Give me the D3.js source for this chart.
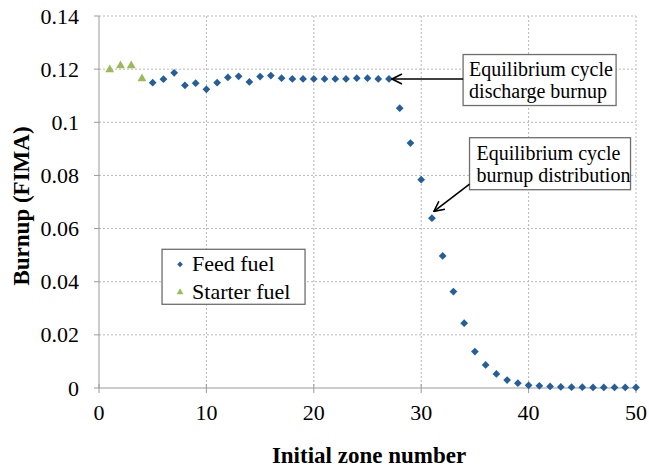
<!DOCTYPE html>
<head>
  <meta charset="utf-8">
  <script src="https://d3js.org/d3.v7.min.js"></script>
</head>
<body style="margin:0">
<script>
  // zones 1-4: starter fuel, 5-50: feed fuel
  var starterZones = [1, 2, 3, 4];
  var starterBurnup = [0.1198, 0.1213, 0.1213, 0.1164];

  var feedZones = d3.range(5, 51);
  var feedBurnup = [
    0.1149, 0.1162, 0.1186, 0.1139, 0.1147, 0.1124, 0.1149, 0.1169, 0.1173, 0.1152,
    0.1172, 0.1176, 0.1166, 0.1163, 0.1163, 0.1163, 0.1163, 0.1163, 0.1163, 0.1166,
    0.1166, 0.1163, 0.1163, 0.1053, 0.0922, 0.0784, 0.0639, 0.0497, 0.0363, 0.0244,
    0.0137, 0.0087, 0.0053, 0.0030, 0.0018, 0.0010, 0.0008, 0.0006, 0.0004, 0.0003,
    0.0003, 0.0002, 0.0002, 0.0002, 0.0002, 0.0002
  ];

  var xTicks = [0, 10, 20, 30, 40, 50];
  var yTicks = [0, 0.02, 0.04, 0.06, 0.08, 0.1, 0.12, 0.14];
  var yTickLabels = ["0", "0.02", "0.04", "0.06", "0.08", "0.1", "0.12", "0.14"];

  var legendLabels = ["Feed fuel", "Starter fuel"];
  var noteDischarge = ["Equilibrium cycle", "discharge burnup"];
  var noteDistribution = ["Equilibrium cycle", "burnup distribution"];

  var W = 649, H = 472;
  var margin = {top: 16, right: 13, bottom: 84, left: 99};

  var svg = d3.select("body").append("svg")
      .attr("width", W)
      .attr("height", H);

  svg.append("defs").append("marker")
      .attr("id", "arrowhead")
      .attr("viewBox", "0 0 12 12")
      .attr("refX", 11).attr("refY", 6)
      .attr("markerWidth", 12).attr("markerHeight", 12)
      .attr("markerUnits", "userSpaceOnUse")
      .attr("orient", "auto")
    .append("path")
      .attr("d", "M1,1 L11,6 L1,11")
      .attr("fill", "none")
      .attr("stroke", "#000")
      .attr("stroke-width", 1.6);

  // every label set the same way as the plain font test that rendered serif
  function label(sel, size, bold) {
    sel.style("font-family", "'Liberation Serif'")
        .style("font-size", size + "px");
    if (bold) sel.style("font-weight", "bold");
    return sel;
  }

  function axisLine(sel) {
    return sel.attr("stroke", "#9a9a9a");
  }

  var x = d3.scaleLinear().domain([0, 50]).range([margin.left, W - margin.right]);
  var y = d3.scaleLinear().domain([0, 0.14]).range([H - margin.bottom, margin.top]);
  var x0 = x(0), x1 = x(50), y0 = y(0), y1 = y(0.14);

  // grid
  svg.selectAll(".hg").data(yTicks.slice(1)).enter().append("line")
      .attr("class", "hg")
      .attr("stroke", "#b8b8b8").attr("stroke-dasharray", "2,2")
      .attr("x1", x0).attr("x2", x1)
      .attr("y1", function(d) { return y(d); })
      .attr("y2", function(d) { return y(d); });
  svg.selectAll(".vg").data(xTicks.slice(1)).enter().append("line")
      .attr("class", "vg")
      .attr("stroke", "#b8b8b8").attr("stroke-dasharray", "2,2")
      .attr("y1", y1).attr("y2", y0)
      .attr("x1", function(d) { return x(d); })
      .attr("x2", function(d) { return x(d); });

  // axes lines + ticks
  axisLine(svg.append("line"))
      .attr("x1", x0).attr("x2", x1).attr("y1", y0).attr("y2", y0);
  axisLine(svg.append("line"))
      .attr("x1", x0).attr("x2", x0).attr("y1", y1).attr("y2", y0);

  axisLine(svg.selectAll(".ytick").data(yTicks).enter().append("line"))
      .attr("class", "ytick")
      .attr("x1", x0 - 5).attr("x2", x0)
      .attr("y1", function(d) { return y(d); })
      .attr("y2", function(d) { return y(d); });
  axisLine(svg.selectAll(".xtick").data(xTicks).enter().append("line"))
      .attr("class", "xtick")
      .attr("x1", function(d) { return x(d); })
      .attr("x2", function(d) { return x(d); })
      .attr("y1", y0 - 4).attr("y2", y0 + 5);

  label(svg.selectAll(".ylab").data(yTicks).enter().append("text"), 22)
      .attr("class", "ylab")
      .attr("x", x0 - 20)
      .attr("y", function(d) { return y(d) + 7.5; })
      .attr("text-anchor", "end")
      .text(function(d, i) { return yTickLabels[i]; });
  label(svg.selectAll(".xlab").data(xTicks).enter().append("text"), 22)
      .attr("class", "xlab")
      .attr("x", function(d) { return x(d); })
      .attr("y", y0 + 32)
      .attr("text-anchor", "middle")
      .text(function(d) { return d; });

  label(svg.append("text"), 23, true)
      .attr("transform", "translate(29,206) rotate(-90)")
      .attr("text-anchor", "middle")
      .text("Burnup (FIMA)");
  label(svg.append("text"), 23, true)
      .attr("x", 369)
      .attr("y", H - 9)
      .attr("text-anchor", "middle")
      .text("Initial zone number");

  // data points
  var diamond = d3.symbol().type(d3.symbolSquare).size(30);
  var triangle = d3.symbol().type(d3.symbolTriangle).size(34);

  svg.selectAll(".feed").data(feedZones).enter().append("path")
      .attr("class", "feed")
      .attr("d", diamond)
      .attr("fill", "#245f9c")
      .attr("transform", function(d, i) {
        return "translate(" + x(d) + "," + y(feedBurnup[i]) + ") rotate(45)";
      });
  svg.selectAll(".starter").data(starterZones).enter().append("path")
      .attr("class", "starter")
      .attr("d", triangle)
      .attr("fill", "#9bbb59")
      .attr("transform", function(d, i) {
        return "translate(" + x(d) + "," + y(starterBurnup[i]) + ")";
      });

  // annotations
  function noteBox(lines, bx, by, w, h, tx, ty) {
    svg.append("rect")
        .attr("fill", "#fff").attr("stroke", "#6e6e6e").attr("stroke-width", 1.3)
        .attr("x", bx).attr("y", by).attr("width", w).attr("height", h);
    lines.forEach(function(line, i) {
      label(svg.append("text"), 20)
          .attr("x", tx)
          .attr("y", ty + i * 22)
          .text(line);
    });
  }

  function arrow(xa, ya, xb, yb) {
    svg.append("line")
        .attr("stroke", "#000").attr("stroke-width", 1.6)
        .attr("x1", xa).attr("y1", ya)
        .attr("x2", xb).attr("y2", yb)
        .attr("marker-end", "url(#arrowhead)");
  }

  var b1x = x(33.9), b1y = y(0.1255);
  noteBox(noteDischarge, b1x, b1y, 153, 51, b1x + 6, b1y + 21);
  arrow(b1x, y(0.1163), x(27) + 3, y(0.1163));

  var b2x = x(34.5), b2y = y(0.0942);
  noteBox(noteDistribution, b2x, b2y, 161, 52, b2x + 7, b2y + 22);
  arrow(b2x, y(0.0767), x(31) + 2, y(0.0665));

  // legend
  var lx = x(5.87), ly = y(0.0522);
  svg.append("rect")
      .attr("fill", "#fff").attr("stroke", "#6e6e6e").attr("stroke-width", 1.3)
      .attr("x", lx).attr("y", ly)
      .attr("width", 143).attr("height", 55);
  svg.append("path").attr("d", d3.symbol().type(d3.symbolSquare).size(16)).attr("fill", "#245f9c")
      .attr("transform", "translate(" + (lx + 18) + "," + (ly + 15) + ") rotate(45)");
  svg.append("path").attr("d", d3.symbol().type(d3.symbolTriangle).size(20)).attr("fill", "#9bbb59")
      .attr("transform", "translate(" + (lx + 18) + "," + (ly + 43) + ")");
  legendLabels.forEach(function(d, i) {
    label(svg.append("text"), 22)
        .attr("x", lx + 30)
        .attr("y", ly + 22 + i * 28)
        .text(d);
  });
</script>
</body>
